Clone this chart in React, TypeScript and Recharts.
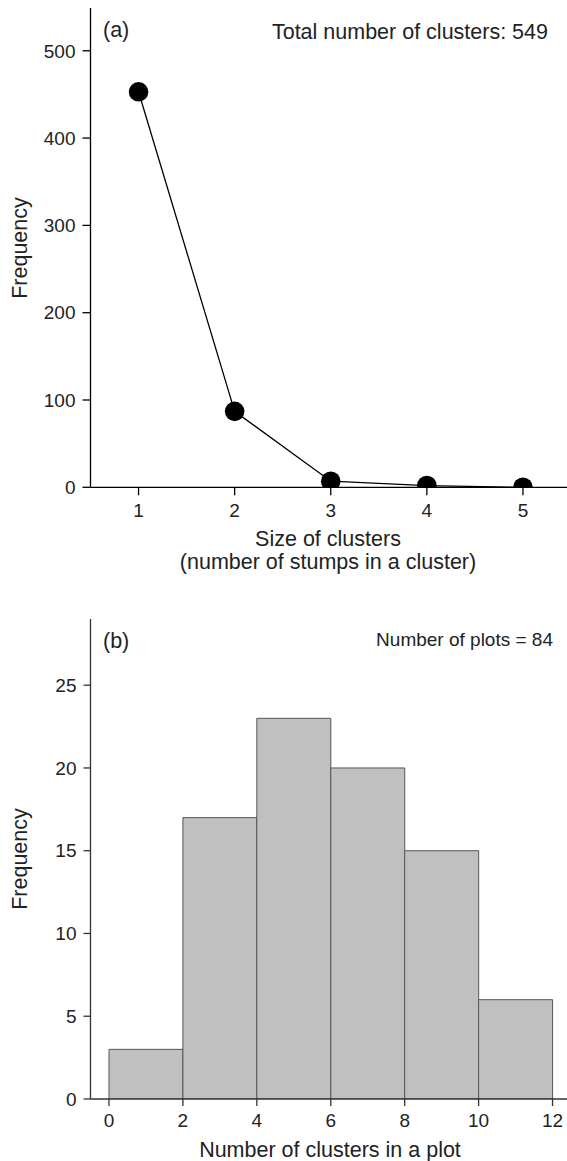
import React from 'react'
import {
  ComposedChart, LineChart, Line, Bar, XAxis, YAxis,
} from 'recharts'

const clusterSizes = [1, 2, 3, 4, 5]
const clusterFreq = [453, 87, 7, 2, 0]
const sizeTicks = [1, 2, 3, 4, 5]
const freqTicksA = [0, 100, 200, 300, 400, 500]

const binLow = [0, 2, 4, 6, 8, 10]
const binHigh = [2, 4, 6, 8, 10, 12]
const plotCounts = [3, 17, 23, 20, 15, 6]
const countTicks = [0, 2, 4, 6, 8, 10, 12]
const freqTicksB = [0, 5, 10, 15, 20, 25]

const FONT = '"Liberation Sans", Arial, sans-serif'

const lineData = clusterSizes.map((s, i) => ({ size: s, freq: clusterFreq[i] }))
const histData = binLow.map((lo, i) => ({ mid: (lo + binHigh[i]) / 2, count: plotCounts[i] }))

const tickStyle = { fontSize: 19, fill: '#222', fontFamily: FONT }
const TITLE = 21.5

export default function App() {
  return (
    <div style={{ position: 'absolute', left: 0, top: 0, width: 567, height: 1161, overflow: 'hidden', background: '#fff' }}>
      <div style={{ position: 'absolute', left: 0, top: 0 }}>
        <LineChart width={600} height={580} data={lineData} margin={{ top: 8, right: 29, bottom: 0, left: 30.5 }}>
          <XAxis
            dataKey="size" type="number" domain={[0.5, 5.5]} ticks={sizeTicks}
            stroke="#000" strokeWidth={1.3} tickSize={8} tickMargin={8} height={92.7}
            tick={tickStyle} tickLine={{ stroke: '#000' }} allowDataOverflow
          />
          <XAxis
            xAxisId="top" orientation="top" dataKey="size" type="number" domain={[0.5, 5.5]}
            height={0} tick={false} tickLine={false} stroke="#000" strokeWidth={1.3}
          />
          <YAxis
            type="number" domain={[0, 549]} ticks={freqTicksA} width={60}
            stroke="#000" strokeWidth={1.3} tickSize={8} tickMargin={7}
            tick={tickStyle} tickLine={{ stroke: '#000' }} allowDataOverflow
          />
          <Line
            dataKey="freq" stroke="#000" strokeWidth={1.3} isAnimationActive={false}
            dot={{ r: 9.8, fill: '#000', stroke: 'none' }} activeDot={false}
          />
          <text x={103} y={37} fontSize={TITLE} fontFamily={FONT} fill="#222">(a)</text>
          <text x={548} y={39} fontSize={TITLE} fontFamily={FONT} fill="#222" textAnchor="end">Total number of clusters: 549</text>
          <text x={328} y={546} fontSize={TITLE} fontFamily={FONT} fill="#222" textAnchor="middle">Size of clusters</text>
          <text x={328} y={569} fontSize={TITLE} fontFamily={FONT} fill="#222" textAnchor="middle">(number of stumps in a cluster)</text>
          <text x={27} y={248} fontSize={TITLE} fontFamily={FONT} fill="#222" textAnchor="middle" transform="rotate(-90 27 248)">Frequency</text>
        </LineChart>
      </div>
      <div style={{ position: 'absolute', left: 0, top: 590 }}>
        <ComposedChart width={600} height={571} data={histData} margin={{ top: 29, right: 29, bottom: 0, left: 30.5 }} barCategoryGap={0} barGap={0}>
          <XAxis
            dataKey="mid" type="number" domain={[-0.5, 12.5]} ticks={countTicks}
            stroke="#333" strokeWidth={1.3} tickSize={7} tickMargin={8} height={62}
            tick={tickStyle} tickLine={{ stroke: '#333' }} allowDataOverflow
          />
          <XAxis
            xAxisId="top" orientation="top" dataKey="mid" type="number" domain={[-0.5, 12.5]}
            height={0} tick={false} tickLine={false} stroke="#555" strokeWidth={1.3}
          />
          <YAxis
            type="number" domain={[0, 29]} ticks={freqTicksB} width={60}
            stroke="#333" strokeWidth={1.3} tickSize={7} tickMargin={7}
            tick={tickStyle} tickLine={{ stroke: '#333' }} allowDataOverflow
          />
          <Bar dataKey="count" fill="#c0c0c0" stroke="#555" strokeWidth={1} isAnimationActive={false} />
          <text x={103} y={58} fontSize={TITLE} fontFamily={FONT} fill="#222">(b)</text>
          <text x={553} y={56} fontSize={19} fontFamily={FONT} fill="#222" textAnchor="end">Number of plots = 84</text>
          <text x={330} y={567} fontSize={TITLE} fontFamily={FONT} fill="#222" textAnchor="middle">Number of clusters in a plot</text>
          <text x={27} y={269} fontSize={TITLE} fontFamily={FONT} fill="#222" textAnchor="middle" transform="rotate(-90 27 269)">Frequency</text>
        </ComposedChart>
      </div>
    </div>
  )
}
